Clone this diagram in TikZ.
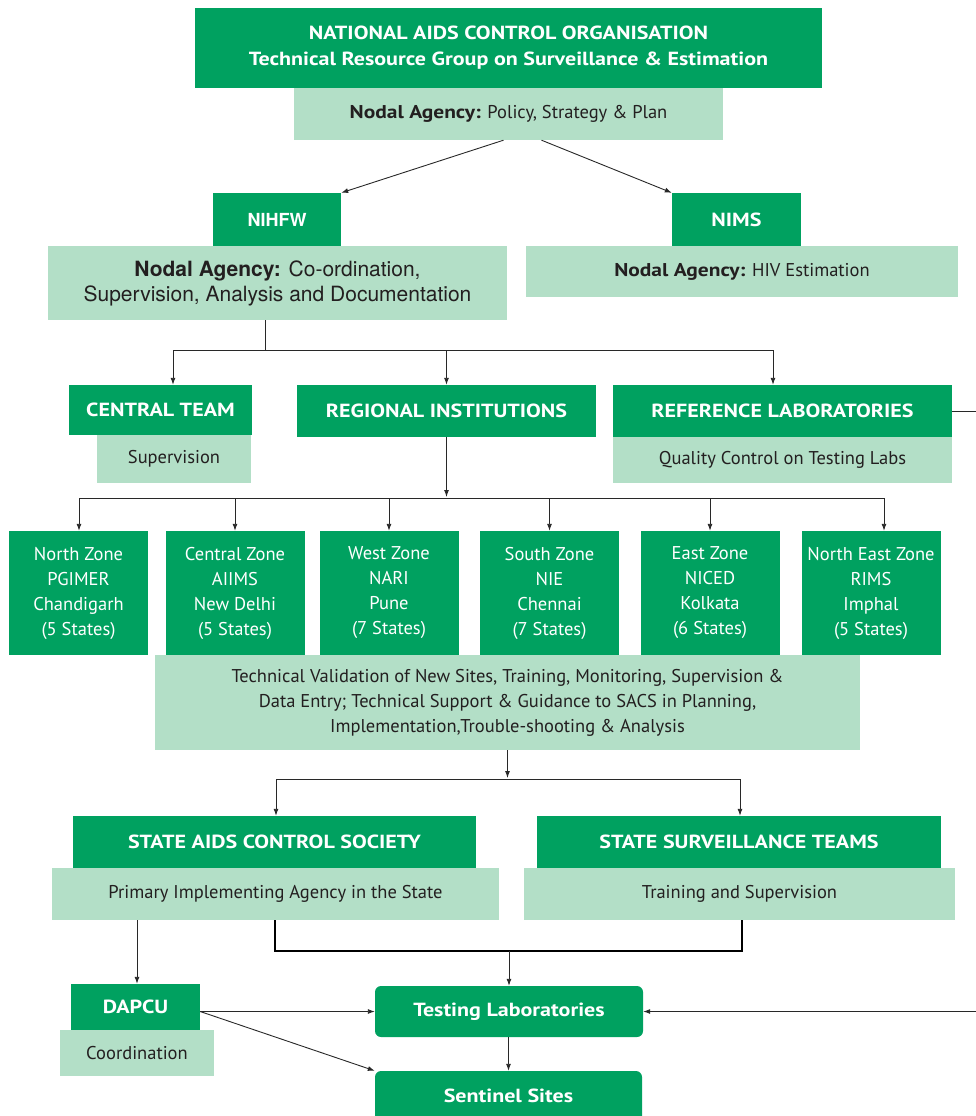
\documentclass[tikz,border=0pt]{standalone}
\usepackage{fontspec}
\setmainfont{PT Sans}[BoldFeatures={FakeStretch=1.16}]
\newfontfamily\helv{TeX Gyre Heros}
\usetikzlibrary{arrows.meta}
\definecolor{dg}{RGB}{0,161,96}
\definecolor{lg}{RGB}{179,223,199}
\definecolor{tx}{RGB}{35,31,32}
\definecolor{lncol}{RGB}{40,40,40}
\tikzset{
 dbox/.style={fill=dg, text=white, inner sep=0pt, align=center, font=\fontsize{19}{26}\selectfont\bfseries},
 hbox/.style={fill=dg, text=white, inner sep=0pt, align=center, font=\helv\fontsize{18}{25}\selectfont\bfseries},
 lbox/.style={fill=lg, text=tx, inner sep=0pt, align=center, font=\fontsize{18.5}{25}\selectfont},
 hlbox/.style={fill=lg, text=tx, inner sep=0pt, align=center, font=\helv\fontsize{21}{25}\selectfont},
 zbox/.style={fill=dg, text=white, inner sep=0pt, align=center, font=\fontsize{18.5}{25}\selectfont, minimum width=139pt, minimum height=124pt},
 rbox/.style={fill=dg, text=white, inner sep=0pt, align=center, rounded corners=6pt, font=\fontsize{19}{25}\selectfont\bfseries},
 arr/.style={draw=lncol, line width=0.9pt, -{Latex[length=7pt,width=5pt]}},
 conn/.style={draw=lncol, line width=0.9pt},
 thick conn/.style={draw=black, line width=1.8pt},
}
\begin{document}
\begin{tikzpicture}[x=1pt,y=-1pt]
\useasboundingbox (0,0) rectangle (976,1116);
% top
\node[dbox, minimum width=627pt, minimum height=80pt] (naco) at (508.5,48) {NATIONAL AIDS CONTROL ORGANISATION\\Technical Resource Group on Surveillance \& Estimation};
\node[lbox, minimum width=429pt, minimum height=52pt] (nacoN) at (508.5,114) {\textbf{Nodal Agency:} Policy, Strategy \& Plan};
% NIHFW / NIMS
\node[hlbox, minimum width=459pt, minimum height=74pt] (nihfwN) at (277.5,283) {\textbf{Nodal Agency:} Co-ordination,\\Supervision, Analysis and Documentation};
\node[hbox, minimum width=128pt, minimum height=53pt] (nihfw) at (277,219.5) {NIHFW};
\node[lbox, minimum width=432pt, minimum height=51pt] (nimsN) at (742,271.5) {\textbf{Nodal Agency:} HIV Estimation};
\node[dbox, minimum width=129pt, minimum height=53pt] (nims) at (736.5,219.5) {NIMS};
% third row
\node[lbox, minimum width=154pt, minimum height=48pt] (ctN) at (174,459) {Supervision};
\node[dbox, minimum width=183pt, minimum height=50pt] (ct) at (160.5,410) {CENTRAL TEAM};
\node[dbox, minimum width=299pt, minimum height=52pt] (ri) at (446.5,411) {REGIONAL INSTITUTIONS};
\node[dbox, minimum width=339pt, minimum height=52pt] (rl) at (782.5,411) {REFERENCE LABORATORIES};
\node[lbox, minimum width=339pt, minimum height=46pt] (rlN) at (782.5,460) {Quality Control on Testing Labs};
% zones
\node[zbox] (z1) at (78.5,593) {North Zone\\PGIMER\\Chandigarh\\(5 States)};
\node[zbox] (z2) at (235,593) {Central Zone\\AIIMS\\New Delhi\\(5 States)};
\node[zbox] (z3) at (389,593) {West Zone\\NARI\\Pune\\(7 States)};
\node[zbox] (z4) at (549.5,593) {South Zone\\NIE\\Chennai\\(7 States)};
\node[zbox] (z5) at (710,593) {East Zone\\NICED\\Kolkata\\(6 States)};
\node[zbox] (z6) at (871,593) {North East Zone\\RIMS\\Imphal\\(5 States)};
\node[lbox, minimum width=705pt, minimum height=95pt] (tv) at (507.5,702.5) {Technical Validation of New Sites, Training, Monitoring, Supervision \&\\Data Entry; Technical Support \& Guidance to SACS in Planning,\\Implementation,Trouble-shooting \& Analysis};
% state
\node[dbox, minimum width=403pt, minimum height=52pt] (sacs) at (274.5,842) {STATE AIDS CONTROL SOCIETY};
\node[lbox, minimum width=447pt, minimum height=52pt] (sacsN) at (275.5,894) {Primary Implementing Agency in the State};
\node[dbox, minimum width=404pt, minimum height=52pt] (sst) at (739,842) {STATE SURVEILLANCE TEAMS};
\node[lbox, minimum width=431pt, minimum height=52pt] (sstN) at (739.5,894) {Training and Supervision};
% bottom
\node[dbox, minimum width=129pt, minimum height=46pt] (dapcu) at (135.5,1007) {DAPCU};
\node[lbox, minimum width=154pt, minimum height=46pt] (dapcuN) at (137,1053) {Coordination};
\node[rbox, minimum width=268pt, minimum height=51pt] (tl) at (509,1011.5) {Testing Laboratories};
\node[rbox, minimum width=267pt, minimum height=64pt] (ss) at (508.5,1103) {};
\node[font=\fontsize{19}{25}\selectfont\bfseries, text=white, inner sep=0pt] (sst2) at (508.5,1096) {Sentinel Sites};
% connectors
\draw[arr] ([xshift=-5pt]nacoN.south) -- (nihfw.north east);
\draw[arr] ([xshift=33pt]nacoN.south) -- (nims.north west);
\coordinate (a1) at (265,350);
\coordinate (a2) at (173,350);
\coordinate (a3) at (773,350);
\draw[conn] (a1 |- nihfwN.south) -- (a1);
\draw[conn] (a2) -- (a3);
\draw[arr] (a2) -- (a2 |- ct.north);
\draw[arr] (ri.north |- a2) -- (ri.north);
\draw[arr] (a3) -- (a3 |- rl.north);
\coordinate (b1) at (79,498);
\coordinate (b6) at (884,498);
\coordinate (bm) at (446.5,497);
\draw[arr] (ri.south) -- (bm);
\draw[conn] (b1) -- (b6);
\draw[arr] (b1) -- (b1 |- z1.north);
\draw[arr] (z2.north |- b1) -- (z2.north);
\draw[arr] (z3.north |- b1) -- (z3.north);
\draw[arr] (z4.north |- b1) -- (z4.north);
\draw[arr] (z5.north |- b1) -- (z5.north);
\draw[arr] (b6) -- (b6 |- z6.north);
\coordinate (c1) at (276,779);
\coordinate (c2) at (740,779);
\coordinate (cm) at (507.5,778);
\draw[arr] (tv.south) -- (cm);
\draw[conn] (c1) -- (c2);
\draw[arr] (c1) -- (c1 |- sacs.north);
\draw[arr] (c2) -- (c2 |- sst.north);
\coordinate (d1) at (275,951);
\coordinate (d2) at (742,951);
\draw[thick conn] (d1 |- sacsN.south) -- (d1) -- (d2) -- (d2 |- sstN.south);
\draw[arr] (tl.north |- d1) -- (tl.north);
\coordinate (e1) at (137,920);
\draw[arr] (e1 |- sacsN.south) -- (e1 |- dapcu.north);
\draw[arr] (dapcu.east |- tl.west) -- (tl.west);
\draw[arr] (dapcu.east |- tl.west) -- (ss.north west);
\draw[arr] (ss.north |- tl.south) -- (ss.north);
\coordinate (f1) at (995,411);
\draw[arr] (rl.east) -- (f1) -- (f1 |- tl.east) -- (tl.east);
\end{tikzpicture}
\end{document}
